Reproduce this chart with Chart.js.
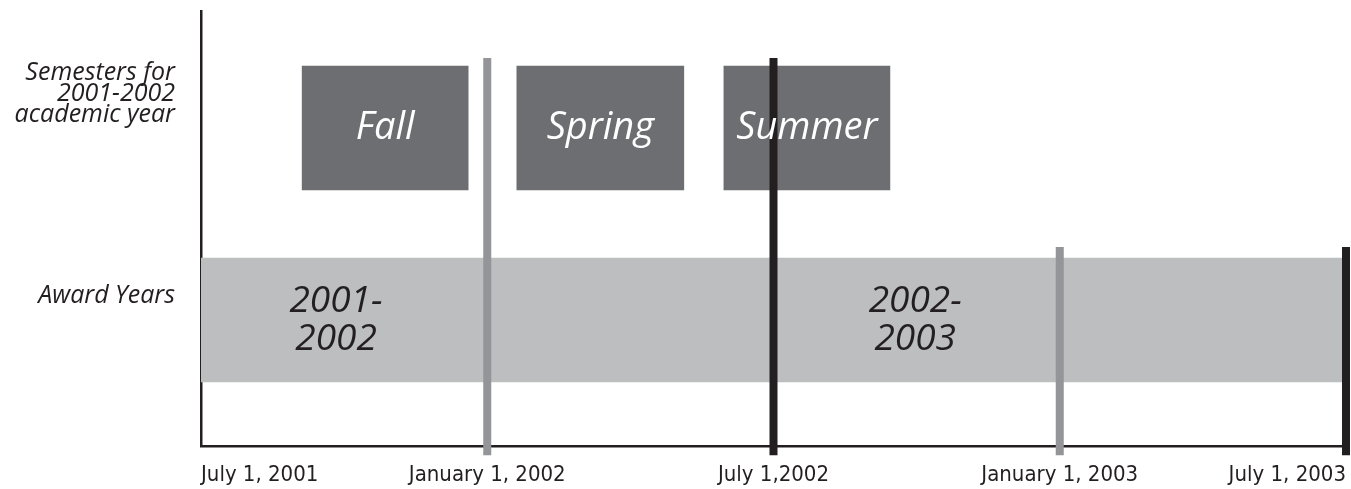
<!DOCTYPE html>
<html>
<head>
<meta charset="utf-8">
<script src="https://cdn.jsdelivr.net/npm/chart.js@4/dist/chart.umd.min.js"></script>
<style>
  html, body { margin: 0; padding: 0; background: #fff; }
  canvas { display: block; }
</style>
</head>
<body>
<canvas id="timeline" width="1351" height="489"></canvas>
<script>
// x values are months counted from July 1, 2001
const rowValues = [3, 1];
const rowLabels = [['Semesters for', '2001-2002', 'academic year', ''], 'Award Years'];
const semesterNames = ['Fall', 'Spring', 'Summer'];
const semesterStart = [2.12, 6.62, 10.96];
const semesterEnd = [5.6, 10.12, 14.44];
const awardSpan = [0, 24];
const awardNames = [['2001-', '2002'], ['2002-', '2003']];
const awardLabelAt = [2.83, 14.97];
const tickMonths = [0, 6, 12, 18, 24];
const tickLabels = ['July 1, 2001', 'January 1, 2002', 'July 1,2002', 'January 1, 2003', 'July 1, 2003'];
const markerMonths = [6, 12, 18, 24];
const markerTop = [3.73, 3.73, 1.76, 1.76];
const markerBottom = -0.41;

const colors = {
    semester: '#6d6e71',
    award: '#bcbec0',
    january: '#939598',
    july: '#231f20',
    ink: '#231f20'
};

const barStyle = {
    grouped: false,
    barPercentage: 1,
    categoryPercentage: 1,
    maxBarThickness: 124,
    borderWidth: 0
};

const markerSets = markerMonths.map((m, i) => ({
    type: 'line',
    data: [{ x: m, y: markerTop[i] }, { x: m, y: markerBottom }],
    borderColor: m % 12 === 6 ? colors.january : colors.july,
    borderWidth: 8,
    borderCapStyle: 'butt',
    pointRadius: 0,
    clip: false,
    order: 1
}));

const labelPlugin = {
    id: 'timelineLabels',
    afterDatasetsDraw(chart) {
        const ctx = chart.ctx;
        const xs = chart.scales.x;
        const ys = chart.scales.y;
        ctx.save();
        ctx.textAlign = 'center';
        ctx.textBaseline = 'middle';
        ctx.font = 'italic 38px "Open Sans"';
        ctx.fillStyle = '#ffffff';
        chart.getDatasetMeta(0).data.forEach((bar, i) => {
            const p = bar.getProps(['x', 'base', 'y'], true);
            ctx.fillText(semesterNames[i], (p.x + p.base) / 2, p.y);
        });
        ctx.font = 'italic 37px "Open Sans"';
        ctx.fillStyle = colors.ink;
        awardNames.forEach((lines, i) => {
            const cx = xs.getPixelForValue(awardLabelAt[i]);
            const cy = ys.getPixelForValue(rowValues[1]);
            lines.forEach((t, j) => ctx.fillText(t, cx, cy + (j - 0.5) * 38));
        });
        ctx.restore();
    }
};

new Chart(document.getElementById('timeline'), {
    type: 'bar',
    data: {
        datasets: [
            {
                ...barStyle,
                data: semesterNames.map((n, i) => ({ x: [semesterStart[i], semesterEnd[i]], y: rowValues[0] })),
                backgroundColor: colors.semester,
                order: 2
            },
            {
                ...barStyle,
                data: [{ x: awardSpan, y: rowValues[1] }],
                backgroundColor: colors.award,
                order: 3
            },
            ...markerSets
        ]
    },
    options: {
        indexAxis: 'y',
        responsive: false,
        animation: false,
        layout: { padding: { top: 11, right: 5, left: 0, bottom: 0 } },
        plugins: { legend: { display: false }, tooltip: { enabled: false } },
        scales: {
            x: {
                type: 'linear',
                min: 0,
                max: 24,
                offset: false,
                grid: { display: false, drawTicks: false },
                border: { display: true, color: colors.ink, width: 2.5 },
                afterBuildTicks: (scale) => { scale.ticks = tickMonths.map((v) => ({ value: v })); },
                afterFit: (scale) => {
                    scale.height = 43;
                    scale.paddingLeft = 0;
                    scale.paddingRight = 0;
                },
                ticks: {
                    autoSkip: false,
                    maxRotation: 0,
                    align: 'inner',
                    padding: 16,
                    color: colors.ink,
                    font: { family: '"DejaVu Sans Condensed", "Liberation Sans Narrow", sans-serif', size: 22 },
                    callback: (v) => tickLabels[tickMonths.indexOf(v)]
                }
            },
            y: {
                type: 'linear',
                min: -0.3125,
                max: 4.21875,
                offset: false,
                grid: { display: false, drawTicks: false, offset: false },
                border: { display: true, color: colors.ink, width: 2.5 },
                afterBuildTicks: (scale) => { scale.ticks = rowValues.map((v) => ({ value: v })); },
                afterFit: (scale) => {
                    scale.width = 201;
                    scale.paddingTop = 0;
                    scale.paddingBottom = 0;
                },
                ticks: {
                    padding: 26,
                    labelOffset: -24,
                    color: colors.ink,
                    font: { family: '"Open Sans", sans-serif', size: 25, style: 'italic', lineHeight: 0.84 },
                    callback: (v) => rowLabels[rowValues.indexOf(v)]
                }
            }
        }
    },
    plugins: [labelPlugin]
});
</script>
</body>
</html>
